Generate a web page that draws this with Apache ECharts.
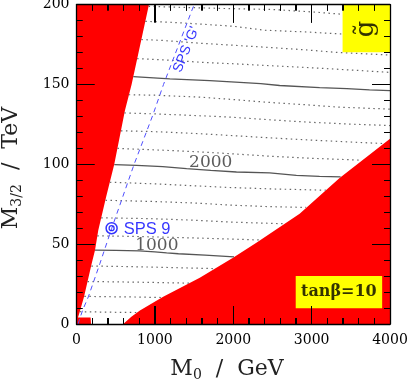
<!DOCTYPE html>
<html>
<head>
<meta charset="utf-8">
<script src="https://cdn.jsdelivr.net/npm/echarts@6/dist/echarts.min.js"></script>
<style>
  html, body { margin: 0; padding: 0; background: #fff; }
  #chart { width: 409px; height: 381px; }
</style>
</head>
<body>
<div id="chart"></div>
<script>
// gluino mass contours, points are [M0 (GeV), M3/2 (TeV)]
const g200 = [[42, 7.7], [300, 7.5], [560, 7.3], [770, 7.2]]
const g400 = [[100, 17.3], [400, 17.1], [750, 16.9], [1080, 16.6]]
const g600 = [[140, 26.6], [500, 26.4], [900, 26.1], [1200, 25.8], [1440, 25.6]]
const g800 = [[190, 36.3], [600, 36.0], [1000, 35.6], [1400, 35.1], [1765, 34.7]]
const g1000 = [[236, 46.3], [500, 46.1], [800, 45.8], [1000, 45.2], [1150, 44.5], [1300, 44.0], [1640, 43.1], [2010, 42.1]]
const g1200 = [[265, 55.2], [700, 54.9], [1200, 54.3], [1700, 53.6], [2100, 53.0], [2350, 52.6]]
const g1400 = [[315, 66.5], [936, 66.0], [1500, 65.0], [2000, 63.8], [2300, 63.3], [2660, 62.8]]
const g1600 = [[370, 77.5], [936, 76.8], [1500, 75.8], [1955, 74.5], [2400, 73.6], [2930, 73.0]]
const g1800 = [[425, 88.8], [936, 87.9], [1500, 86.6], [1955, 85.5], [2500, 84.6], [3180, 83.8]]
const g2000 = [[482, 99.8], [767, 99.4], [1100, 98.6], [1404, 97.3], [1713, 96.2], [2041, 95.2], [2465, 94.6], [2805, 93.1], [3100, 92.5], [3370, 92.1]]
const g2200 = [[522, 110.0], [936, 109.2], [1500, 108.0], [1955, 106.7], [2500, 105.0], [3000, 103.8], [3640, 102.6]]
const g2400 = [[567, 121.0], [936, 120.6], [1500, 119.4], [1955, 118.1], [2500, 116.5], [3000, 115.2], [3500, 114.0], [3920, 113.0]]
const g2600 = [[611, 132.2], [1000, 131.6], [1500, 130.6], [1955, 129.6], [2500, 127.8], [3000, 126.3], [3500, 125.2], [4000, 124.3]]
const g2800 = [[666, 143.6], [1000, 143.3], [1573, 142.1], [2000, 140.6], [2423, 138.9], [2900, 137.4], [3357, 135.8], [4000, 134.6]]
const g3000 = [[724, 155.0], [1191, 153.5], [1701, 152.5], [2083, 151.4], [2350, 150.6], [2592, 149.4], [3102, 148.0], [3450, 147.4], [3739, 146.7], [4000, 146.2]]
const g3200 = [[774, 166.2], [1100, 165.5], [1600, 163.9], [2000, 163.0], [2400, 162.0], [3000, 160.5], [3600, 158.8], [4000, 157.6]]
const g3400 = [[827, 178.2], [1100, 177.6], [1600, 175.8], [2000, 174.6], [2400, 173.4], [2900, 171.8], [3300, 170.2], [4000, 168.5]]
const g3600 = [[878, 189.6], [1200, 189.0], [1600, 187.8], [2000, 186.5], [2400, 184.0], [2900, 183.0], [3400, 181.6], [4000, 180.5]]
const g3800 = [[920, 199.0], [1300, 198.4], [1900, 197.6], [2500, 197.0], [3000, 195.5], [3400, 194.0], [4000, 192.5]]

const solidContours = [g1000, g2000, g3000]
const dottedContours = [g200, g400, g600, g800, g1200, g1400, g1600, g1800, g2200, g2400, g2600, g2800, g3200, g3400, g3600, g3800]

// excluded regions
const leftExcluded = [[0, 0], [0, 200], [924, 200], [703, 150], [618, 133.75], [482, 100], [380, 80], [278, 58.75], [236, 46.25], [194, 37.9], [96, 17], [36, 6.7], [19, 4], [180, 4], [185, 0]]
const rightExcluded = [[596, 0], [700, 4.5], [809, 8.5], [1106, 17], [1573, 29], [1997, 41.5], [2300, 51], [2847, 69], [3357, 91.5], [4000, 116], [4000, 0]]

// SPS 'G' line and SPS 9 point
const spsG = [[20, 0], [45, 3.8], [79, 8.75], [151, 17], [299, 37.9], [450, 60], [735, 100], [975, 131], [1110, 150], [1500, 200]]
const sps9 = [448, 60]

// annotations
const contourLabels = ['1000', '2000']
const contourLabelAt = [[1025, 49.4], [1713, 100.9]]
const sps9LabelAt = [900, 59.4]
const spsGLabelAt = [1401, 171.9]
const gluinoBox = [[3395, 170.2], [4000, 200]]
const tanBetaBox = [[2797, 9.8], [3900, 30]]
const gluinoLabelAt = [3694, 184.75]
const tanBetaLabelAt = [3348, 20]

// axes and ticks
const xRange = [0, 4000]
const yRange = [0, 200]
const xMajorTicks = [0, 1000, 2000, 3000, 4000]
const xMinorTicks = [200, 400, 600, 800, 1200, 1400, 1600, 1800, 2200, 2400, 2600, 2800, 3200, 3400, 3600, 3800]
const yMajorTicks = [0, 50, 100, 150, 200]
const yMinorTicks = [10, 20, 30, 40, 60, 70, 80, 90, 110, 120, 130, 140, 160, 170, 180, 190]

const myChart = echarts.init(document.getElementById('chart'))

function polygonSeries (points, color, z) {
  return {
    type: 'custom',
    coordinateSystem: 'cartesian2d',
    silent: true,
    z: z,
    data: [[0, 0]],
    renderItem: function (params, api) {
      return {
        type: 'polygon',
        shape: { points: points.map(p => api.coord(p)) },
        style: { fill: color }
      }
    }
  }
}

function boxSeries (boxes) {
  return {
    type: 'custom',
    coordinateSystem: 'cartesian2d',
    silent: true,
    z: 5,
    data: boxes.map((b, i) => [i, 0]),
    renderItem: function (params, api) {
      const b = boxes[params.dataIndex]
      const p0 = api.coord(b[0])
      const p1 = api.coord(b[1])
      return {
        type: 'rect',
        shape: { x: p0[0], y: p1[1], width: p1[0] - p0[0], height: p0[1] - p1[1] },
        style: { fill: '#ffff00' }
      }
    }
  }
}

// inward ticks on all four sides of the frame, snapped to whole pixels
const crisp = v => Math.round(v - 0.5) + 0.5
const tickSeries = {
  type: 'custom',
  coordinateSystem: 'cartesian2d',
  silent: true,
  z: 20,
  data: [[0, 0]],
  renderItem: function (params, api) {
    const children = []
    const seg = (p, dx, dy) => {
      const x = dx === 0 ? crisp(p[0]) : p[0]
      const y = dy === 0 ? crisp(p[1]) : p[1]
      children.push({
        type: 'line',
        shape: { x1: x, y1: y, x2: x + dx, y2: y + dy },
        style: { stroke: '#000', lineWidth: 1 }
      })
    }
    const xTick = (v, len) => {
      seg(api.coord([v, yRange[0]]), 0, -len)
      seg(api.coord([v, yRange[1]]), 0, len)
    }
    const yTick = (v, len) => {
      seg(api.coord([xRange[0], v]), len, 0)
      seg(api.coord([xRange[1], v]), -len, 0)
    }
    xMajorTicks.forEach(v => xTick(v, 18))
    xMinorTicks.forEach(v => xTick(v, 6))
    yMajorTicks.forEach(v => yTick(v, 18))
    yMinorTicks.forEach(v => yTick(v, 6))
    return { type: 'group', children: children }
  }
}

function lineSeries (points, style) {
  return {
    type: 'line',
    data: points,
    showSymbol: false,
    silent: true,
    z: 3,
    lineStyle: style
  }
}

const tickFont = { fontFamily: 'DejaVu Serif', fontSize: 14, color: '#000' }

function makeAxis (pos, range, step, withLabels, margin) {
  return {
    type: 'value',
    position: pos,
    min: range[0],
    max: range[1],
    interval: step,
    z: 10,
    axisLine: { show: true, onZero: false, lineStyle: { color: '#000', width: 1.3 } },
    axisTick: { show: true, inside: true, length: 18, lineStyle: { color: '#000', width: 1 } },
    minorTick: { show: true, splitNumber: 5, length: 6, lineStyle: { color: '#000', width: 1 } },
    axisLabel: Object.assign({ show: withLabels, margin: margin, formatter: v => String(v) }, tickFont),
    splitLine: { show: false },
    minorSplitLine: { show: false }
  }
}

const titleRich = {
  m: { fontFamily: 'DejaVu Serif', fontSize: 22, fill: '#222', lineHeight: 27, verticalAlign: 'middle' },
  s: { fontFamily: 'DejaVu Serif', fontSize: 14, fill: '#222', lineHeight: 14, verticalAlign: 'bottom' }
}

const blueText = { color: '#0000ff', fontFamily: 'Liberation Sans', fontSize: 14 }

const labelSeries = {
  type: 'scatter',
  silent: true,
  z: 6,
  symbolSize: 0,
  data: [
    ...contourLabels.map((t, i) => ({
      value: contourLabelAt[i],
      label: { show: true, position: 'inside', formatter: t, fontFamily: 'DejaVu Serif', fontSize: 17, color: '#333' }
    })),
    {
      value: sps9LabelAt,
      label: Object.assign({ show: true, position: 'inside', formatter: 'SPS 9' }, blueText, { fontSize: 16.5 })
    },
    {
      value: spsGLabelAt,
      label: Object.assign({ show: true, position: 'inside', formatter: "SPS 'G'", rotate: 68 }, blueText)
    },
    {
      value: gluinoLabelAt,
      label: { show: true, position: 'inside', formatter: 'g\u0303', rotate: 90, fontFamily: 'DejaVu Serif', fontSize: 26, color: '#000' }
    },
    {
      value: tanBetaLabelAt,
      label: { show: true, position: 'inside', formatter: 'tan\u03b2=10', fontFamily: 'DejaVu Serif', fontWeight: 'bold', fontSize: 16, color: '#000' }
    }
  ]
}

const series = [
  polygonSeries(leftExcluded, '#ff0000', 1),
  polygonSeries(rightExcluded, '#ff0000', 1),
  ...dottedContours.map(c => lineSeries(c, { color: '#666', width: 1.2, type: [1.5, 3.5] })),
  ...solidContours.map(c => lineSeries(c, { color: '#555', width: 1.3, type: 'solid' })),
  lineSeries(spsG, { color: '#4f4fff', width: 1, type: [5, 4] }),
  {
    type: 'scatter',
    silent: true,
    z: 6,
    data: [sps9],
    symbol: 'circle',
    symbolSize: 11,
    itemStyle: { color: 'rgba(0,0,0,0)', borderColor: '#0000ff', borderWidth: 1.5 }
  },
  {
    type: 'scatter',
    silent: true,
    z: 6,
    data: [sps9],
    symbol: 'circle',
    symbolSize: 5,
    itemStyle: { color: 'rgba(0,0,0,0)', borderColor: '#0000ff', borderWidth: 1.3 }
  },
  boxSeries([gluinoBox, tanBetaBox]),
  labelSeries,
  tickSeries
]

myChart.setOption({
  animation: false,
  grid: { left: 76.5, right: 19, top: 4.7, bottom: 57, outerBoundsMode: 'none' },
  xAxis: [makeAxis('bottom', xRange, 1000, true, 9), makeAxis('top', xRange, 1000, false, 9)],
  yAxis: [makeAxis('left', yRange, 50, true, 7), makeAxis('right', yRange, 50, false, 7)],
  // axis titles
  graphic: [
    {
      type: 'text',
      x: 227,
      y: 369,
      silent: true,
      style: { text: '{m|M}{s|0}{m|  /  GeV}', rich: titleRich, align: 'center', verticalAlign: 'middle' }
    },
    {
      type: 'text',
      x: 11,
      y: 168,
      rotation: Math.PI / 2,
      silent: true,
      style: { text: '{m|M}{s|3/2}{m|  /  TeV}', rich: titleRich, align: 'center', verticalAlign: 'middle' }
    }
  ],
  series: series
})
</script>
</body>
</html>
